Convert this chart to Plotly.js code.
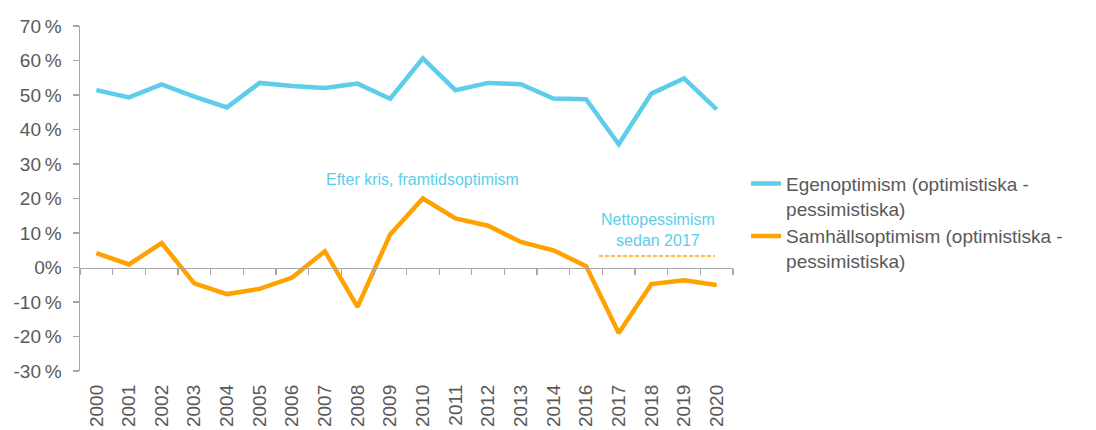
<!DOCTYPE html>
<html><head><meta charset="utf-8">
<script src="https://cdn.plot.ly/plotly-3.0.1.min.js"></script>
<style>body{margin:0;background:#fff}#chart{width:1096px;height:430px}</style>
</head><body><div id="chart"></div>
<script>
const years = ['2000','2001','2002','2003','2004','2005','2006','2007','2008','2009','2010','2011','2012','2013','2014','2016','2017','2018','2019','2020'];
const egenoptimism = [51.4,49.3,53.1,49.5,46.4,53.5,52.6,52.0,53.3,48.9,60.6,51.4,53.5,53.1,49.0,48.8,35.7,50.4,54.8,45.8];
const samhallsoptimism = [4.2,0.9,7.1,-4.6,-7.7,-6.2,-2.9,4.7,-11.4,9.6,20.0,14.2,12.1,7.4,5.0,0.4,-19.0,-4.8,-3.7,-5.1];
const yTicks = [-30,-20,-10,0,10,20,30,40,50,60,70];
const yTickText = ['-30\u2009%','-20\u2009%','-10\u2009%','0%','10\u2009%','20\u2009%','30\u2009%','40\u2009%','50\u2009%','60\u2009%','70\u2009%'];
const seriesNames = ['Egenoptimism (optimistiska -<br>pessimistiska)','Samhällsoptimism (optimistiska -<br>pessimistiska)'];

const blue = '#5DCDEA', orange = '#FFA200', grey = '#595959', axisGrey = '#A6A6A6';
const font = 'Liberation Sans, Arial, sans-serif';

const traces = [
  {x: years, y: egenoptimism, name: seriesNames[0], type: 'scatter', mode: 'lines', line: {color: blue, width: 4.5}, xaxis: 'x', yaxis: 'y'},
  {x: years, y: samhallsoptimism, name: seriesNames[1], type: 'scatter', mode: 'lines', line: {color: orange, width: 4.5}, xaxis: 'x', yaxis: 'y'},
  {x: years, y: years.map(() => null), showlegend: false, hoverinfo: 'skip', xaxis: 'x2', yaxis: 'y', mode: 'lines'}
];

const layout = {
  width: 1096, height: 430,
  margin: {l: 80, r: 363, t: 26, b: 59},
  paper_bgcolor: '#fff', plot_bgcolor: '#fff',
  font: {family: font, color: grey, size: 18},
  showlegend: true,
  legend: {x: 1.02, y: 0.598, xanchor: 'left', yanchor: 'top', valign: 'top',
           font: {size: 19, color: grey}, tracegroupgap: 2, bgcolor: 'rgba(0,0,0,0)'},
  xaxis: {type: 'category', categoryorder: 'array', categoryarray: years, range: [-0.5, 19.5],
          anchor: 'free', position: 0.3, showline: true, linecolor: axisGrey, linewidth: 1.5,
          ticks: 'outside', tickson: 'boundaries', ticklen: 6, tickcolor: axisGrey, tickwidth: 1.3,
          showticklabels: false, showgrid: false, zeroline: false, fixedrange: true},
  xaxis2: {type: 'category', categoryorder: 'array', categoryarray: years, range: [-0.5, 19.5],
           overlaying: 'x', anchor: 'y', side: 'bottom', showline: false, ticks: '', showgrid: false,
           tickangle: -90, tickfont: {size: 19, color: grey, family: font}, ticklabelstandoff: 9},
  yaxis: {range: [-30, 70], tickvals: yTicks, ticktext: yTickText, showline: true, linecolor: axisGrey,
          linewidth: 1.5, ticks: 'outside', ticklen: 6, tickcolor: axisGrey, tickwidth: 1.3,
          ticklabelstandoff: 7,
          showgrid: false, zeroline: false, tickfont: {size: 19, color: grey, family: font}},
  annotations: [
    {xref: 'x', yref: 'y', x: 10, y: 25.5, text: 'Efter kris, framtidsoptimism', showarrow: false,
     font: {size: 16, color: blue, family: font}},
    {xref: 'x', yref: 'y', x: 17.2, y: 10.9, text: 'Nettopessimism<br>sedan 2017', showarrow: false,
     font: {size: 16, color: blue, family: font}}
  ],
  shapes: [
    {type: 'line', xref: 'x', yref: 'y', x0: 15.4, x1: 18.95, y0: 3.3, y1: 3.3,
     line: {color: orange, width: 1.5, dash: '4px,2px'}}
  ]
};
Plotly.newPlot('chart', traces, layout, {displayModeBar: false, staticPlot: true});
</script></body></html>
